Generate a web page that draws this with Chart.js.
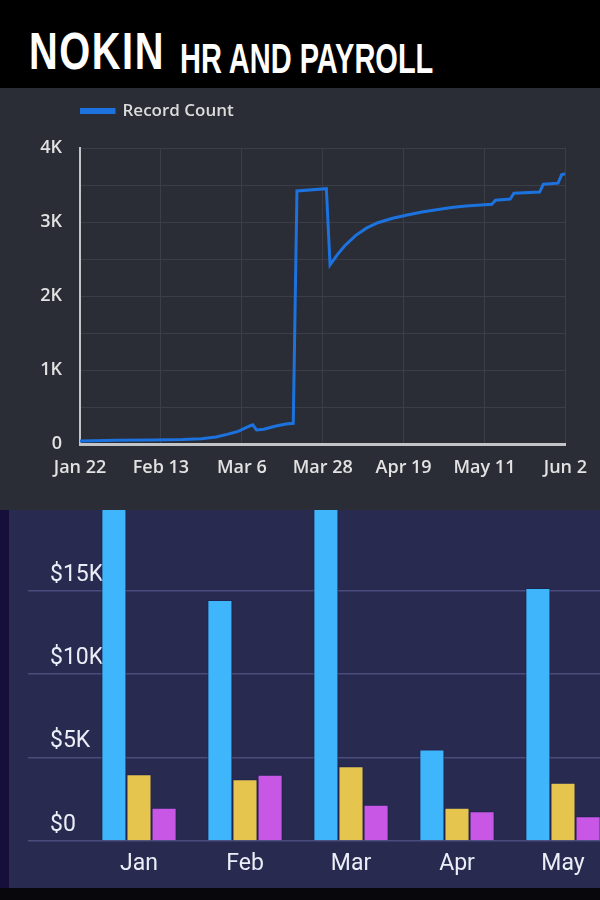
<!DOCTYPE html>
<html>
<head>
<meta charset="utf-8">
<script src="https://cdn.jsdelivr.net/npm/chart.js@4.4.1/dist/chart.umd.min.js"></script>
<style>
  html, body { margin: 0; padding: 0; }
  body { width: 600px; height: 900px; background: #08080c; position: relative; overflow: hidden; }
  #header { position: absolute; left: 0; top: 0; width: 600px; height: 88px; background: #000; }
  .ttl { position: absolute; color: #fff; font-family: "Liberation Sans", sans-serif; font-weight: bold;
         transform-origin: left top; white-space: nowrap; }
  #ttl-main { left: 29px; top: 26px; font-size: 51px; line-height: 51px; letter-spacing: 2px; transform: scaleX(0.78); }
  #ttl-sub  { left: 179.5px; top: 37.7px; font-size: 42px; line-height: 42px; transform: scaleX(0.69); }
  #line-panel { position: absolute; left: 0; top: 88px; width: 600px; height: 422px; background: #2a2d35; }
  #bar-panel { position: absolute; left: 0; top: 510px; width: 600px; height: 378px; background: #282a50; overflow: hidden; }
  #bar-strip { position: absolute; left: 0; top: 0; width: 9px; height: 378px; background: #160f3b; z-index: 2; }
  canvas { position: absolute; left: 0; top: 0; }
</style>
</head>
<body>
<div id="header">
  <div class="ttl" id="ttl-main">NOKIN</div>
  <div class="ttl" id="ttl-sub">HR AND PAYROLL</div>
</div>
<div id="line-panel"><canvas id="chart-line" width="600" height="422"></canvas></div>
<div id="bar-panel"><div id="bar-strip"></div><canvas id="chart-bar" width="620" height="378"></canvas></div>

<script>
// ── Data: record count (days since Jan 22) ──────────────────
const dayTickLabels = ['Jan 22', 'Feb 13', 'Mar 6', 'Mar 28', 'Apr 19', 'May 11', 'Jun 2'];
const recordDays   = [0, 10, 20, 28, 33, 37, 40, 43, 46, 47, 48, 50, 53, 56, 58, 59, 67, 68, 70, 72, 75, 78, 81, 85, 89, 93, 97, 101, 105, 109, 112, 113, 117, 118, 125, 126, 130, 131, 132];
const recordCounts = [40, 50, 55, 60, 70, 95, 130, 170, 240, 260, 190, 200, 240, 270, 280, 3420, 3450, 2420, 2560, 2680, 2820, 2920, 2990, 3050, 3095, 3135, 3165, 3195, 3215, 3230, 3240, 3295, 3310, 3390, 3405, 3510, 3525, 3640, 3650];

// ── Data: monthly payroll bars ──────────────────────────────
const months     = ['Jan', 'Feb', 'Mar', 'Apr', 'May'];
const payBlue    = [21000, 14450, 22000, 5480, 15170];
const payYellow  = [4000, 3700, 4480, 2000, 3500];
const payPurple  = [2000, 3980, 2180, 1780, 1480];
const payTicks   = [0, 5000, 10000, 15000];

// legend sits up high, chart area starts lower -> stretch the legend box
const legendGap = {
  id: 'legendGap',
  afterInit(chart) {
    const fit = chart.legend.fit;
    chart.legend.fit = function () { fit.call(this); this.height = 45.5; };
  }
};

const legendFont = { family: '"Open Sans", sans-serif', size: 17, weight: '600' };
const tickFont   = { family: '"Open Sans", sans-serif', size: 18, weight: '600' };

new Chart(document.getElementById('chart-line'), {
  type: 'line',
  data: {
    datasets: [{
      label: 'Record Count',
      data: recordDays.map((d, i) => ({ x: d, y: recordCounts[i] })),
      borderColor: '#1c72de',
      backgroundColor: '#1c72de',
      borderWidth: 3,
      pointRadius: 0,
      tension: 0
    }]
  },
  options: {
    responsive: false,
    animation: false,
    layout: { padding: { left: 0, top: 14.5, right: 32, bottom: 0 } },
    plugins: {
      legend: {
        position: 'top',
        align: 'start',
        fullSize: false,
        labels: { boxWidth: 34, boxHeight: 3, padding: 0, color: '#dcdcdc', font: legendFont }
      },
      tooltip: { enabled: false }
    },
    scales: {
      x: {
        type: 'linear', min: 0, max: 132,
        afterFit: s => { s.height = 66; },
        grid: { color: '#3b3e47', lineWidth: 1, drawTicks: false },
        border: { color: '#c3c4c7', width: 3 },
        ticks: {
          stepSize: 22, padding: 13, color: '#e2e2e2', font: tickFont, maxRotation: 0,
          callback: v => dayTickLabels[v / 22]
        }
      },
      y: {
        min: 0, max: 4000,
        afterFit: s => { s.width = 80; },
        grid: { color: '#3b3e47', lineWidth: 1, drawTicks: false },
        border: { color: '#c3c4c7', width: 2 },
        ticks: {
          stepSize: 500, padding: 18, color: '#e2e2e2', font: tickFont,
          callback: v => v % 1000 !== 0 ? '' : (v === 0 ? '0' : (v / 1000) + 'K')
        }
      }
    }
  },
  plugins: [legendGap]
});

const barFont = { family: 'Roboto, sans-serif', size: 23 };

new Chart(document.getElementById('chart-bar'), {
  type: 'bar',
  data: {
    labels: months,
    datasets: [
      { data: payBlue,   backgroundColor: '#3fb5fc', borderColor: '#1c2450', borderWidth: 1 },
      { data: payYellow, backgroundColor: '#e6c54f', borderColor: '#1c2450', borderWidth: 1 },
      { data: payPurple, backgroundColor: '#c957e6', borderColor: '#1c2450', borderWidth: 1 }
    ]
  },
  options: {
    responsive: false,
    animation: false,
    layout: { padding: { left: 50, top: 0, right: 4, bottom: 0 } },
    datasets: { bar: { categoryPercentage: 0.71, barPercentage: 1.0 } },
    plugins: { legend: { display: false }, tooltip: { enabled: false } },
    scales: {
      x: {
        afterFit: s => { s.height = 47; },
        grid: { display: false },
        border: { display: false },
        ticks: { color: '#eceef7', font: barFont, padding: 1 }
      },
      y: {
        min: 0, max: 19850,
        afterFit: s => { s.width = 36; },
        afterBuildTicks: s => { s.ticks = payTicks.map(v => ({ value: v })); },
        grid: { color: '#4a4d7c', lineWidth: 1.5, tickLength: 58, tickColor: '#4a4d7c' },
        border: { display: false },
        ticks: {
          color: '#eceef7', font: barFont, mirror: true, padding: -36, labelOffset: -16,
          callback: v => v === 0 ? '$0' : '$' + (v / 1000) + 'K'
        }
      }
    }
  }
});
</script>
</body>
</html>
